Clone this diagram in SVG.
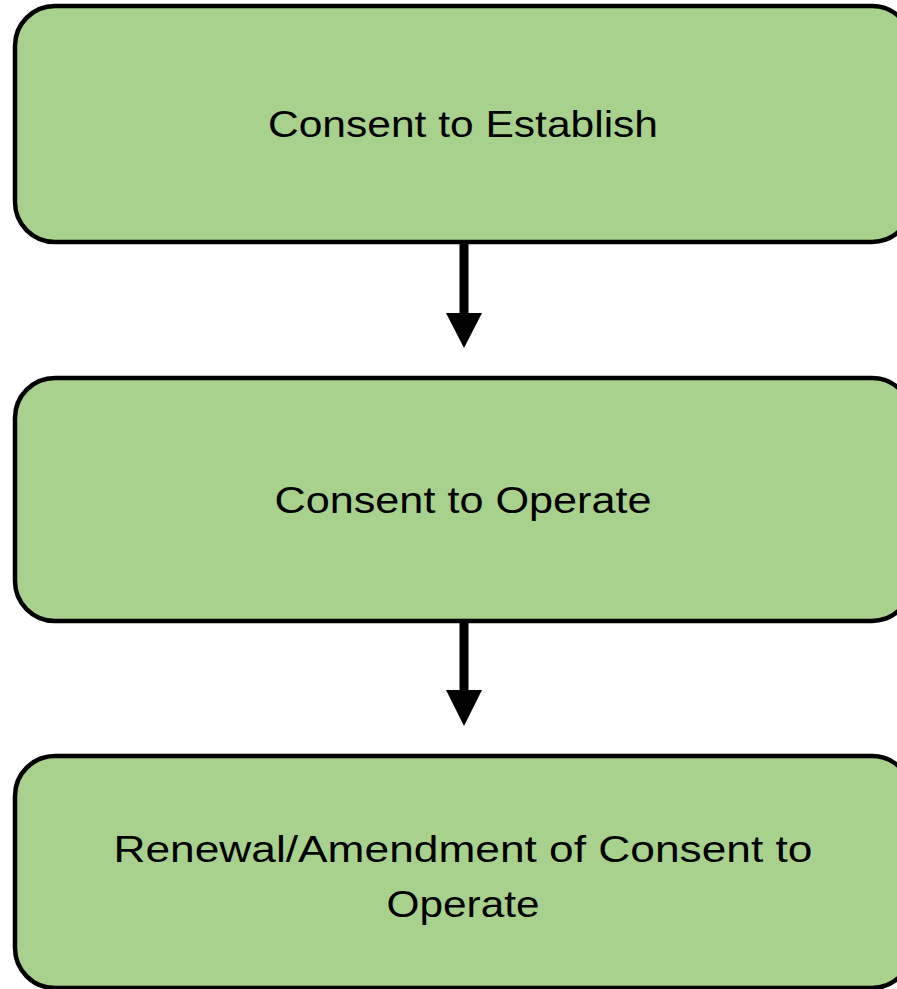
<svg xmlns="http://www.w3.org/2000/svg" width="897" height="989" viewBox="0 0 897 989">
  <style>
    .box { fill: #A9D18E; stroke: #000000; stroke-width: 4.5; }
    .lbl { font-family: "Liberation Sans", "Open Sans", sans-serif; font-size: 36px; fill: #000000; text-anchor: middle; }
    .shaft { stroke: #000000; stroke-width: 9; fill: none; }
    .head { fill: #000000; }
  </style>
  <rect x="0" y="0" width="897" height="989" fill="#FFFFFF"/>
  <g id="connectors">
    <g id="arrow1">
      <line class="shaft" x1="464" y1="242" x2="464" y2="315"/>
      <polygon class="head" points="446,313 482,313 464,348"/>
    </g>
    <g id="arrow2">
      <line class="shaft" x1="464" y1="621" x2="464" y2="692"/>
      <polygon class="head" points="446,690 482,690 464,726"/>
    </g>
  </g>
  <g id="node1">
    <rect class="box" x="15" y="6" width="897" height="236" rx="40" ry="40"/>
    <text class="lbl" x="463" y="137" textLength="390" lengthAdjust="spacingAndGlyphs">Consent to Establish</text>
  </g>
  <g id="node2">
    <rect class="box" x="15" y="378" width="897" height="243" rx="40" ry="40"/>
    <text class="lbl" x="463" y="513" textLength="377" lengthAdjust="spacingAndGlyphs">Consent to Operate</text>
  </g>
  <g id="node3">
    <rect class="box" x="15" y="756" width="897" height="232" rx="40" ry="40"/>
    <text class="lbl" x="463" y="862" textLength="699" lengthAdjust="spacingAndGlyphs">Renewal/Amendment of Consent to</text>
    <text class="lbl" x="463" y="917" textLength="153" lengthAdjust="spacingAndGlyphs">Operate</text>
  </g>
</svg>
